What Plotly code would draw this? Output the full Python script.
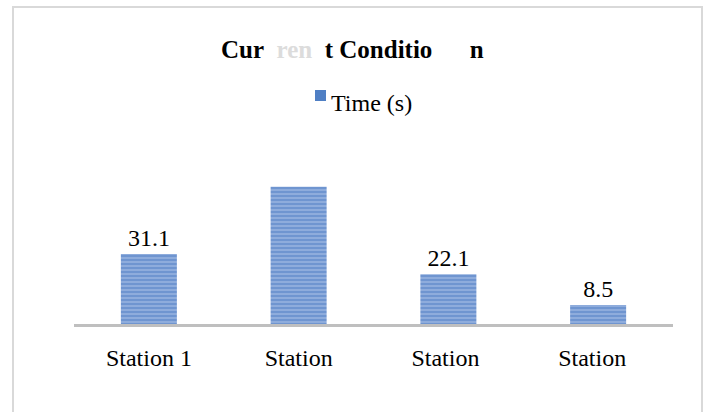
import plotly.graph_objects as go

categories = ["Station 1", "Station", "Station ", "Station  "]
values = [31.1, 61.0, 22.1, 8.5]
labels = ["31.1", "", "22.1", "8.5"]
series_name = "Time (s)"

W, H = 709, 412
L, R, T, B = 74, 36, 144, 88
pw, ph = W - L - R, H - T - B


def px(x):
    return (x - L) / pw


def py(y):
    return (H - B - y) / ph


bar_color = "#6f95d0"
stripe = "#bccfee"
serif = "Liberation Serif, Times New Roman, serif"

fig = go.Figure()
fig.add_trace(go.Bar(
    x=categories, y=values, text=labels, name=series_name,
    textposition="outside", cliponaxis=False,
    textfont=dict(family=serif, size=24, color="#000000"),
    marker=dict(color=bar_color, line=dict(width=0),
                pattern=dict(shape="-", fgcolor=stripe, size=4, solidity=0.4)),
    showlegend=False,
))

title_html = ("<b>Cur<span style='color:#dcdcdc'>\u00a0\u00a0ren\u00a0\u00a0</span>t Conditio"
              "\u00a0\u00a0\u00a0\u00a0\u00a0\u00a0n</b>")

fig.update_layout(
    width=W, height=H,
    margin=dict(l=L, r=R, t=T, b=B),
    paper_bgcolor="white", plot_bgcolor="white",
    bargap=0.626,
    font=dict(family=serif, color="#000000"),
    xaxis=dict(showline=True, linecolor="#bfbfbf", linewidth=3, ticks="",
               showgrid=False, zeroline=False, ticklabelstandoff=10,
               tickfont=dict(family=serif, size=24, color="#000000")),
    yaxis=dict(visible=False, range=[0, 80], showgrid=False, zeroline=False),
    shapes=[
        dict(type="rect", xref="paper", yref="paper",
             x0=px(13), x1=px(702), y0=py(416), y1=py(7),
             line=dict(color="#d9d9d9", width=2), fillcolor="rgba(0,0,0,0)", layer="below"),
        dict(type="rect", xref="paper", yref="paper",
             x0=px(315), x1=px(326), y0=py(101), y1=py(90),
             line=dict(width=0), fillcolor="#4f7fc4"),
    ],
    annotations=[
        dict(text=title_html, xref="paper", yref="paper", x=px(219), y=py(49),
             xanchor="left", yanchor="middle", showarrow=False,
             font=dict(family=serif, size=25, color="#000000")),
        dict(text=series_name, xref="paper", yref="paper", x=px(329), y=py(103),
             xanchor="left", yanchor="middle", showarrow=False,
             font=dict(family=serif, size=24, color="#000000")),
    ],
)

fig.write_html("out.html", config={"displayModeBar": False},
               post_script="document.body.style.margin='0';document.body.style.padding='0';")
